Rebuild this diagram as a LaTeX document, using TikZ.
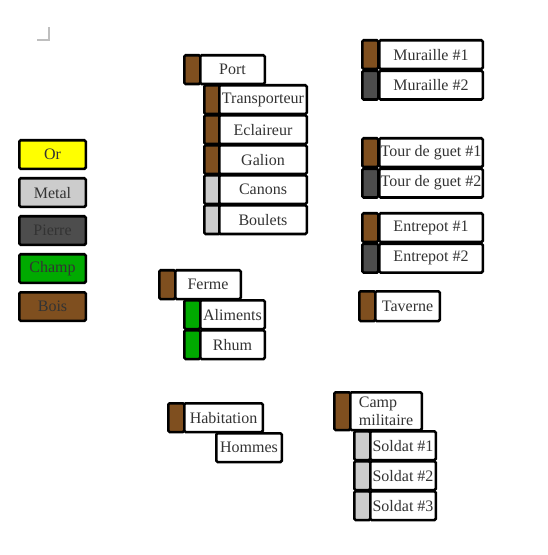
\documentclass[tikz,border=0pt]{standalone}
\usepackage{fontspec}
\setmainfont{Liberation Serif}
\usepackage{xcolor}
\definecolor{bois}{HTML}{7F4F1F}
\definecolor{metal}{HTML}{CCCCCC}
\definecolor{pierre}{HTML}{4D4D4D}
\definecolor{champ}{HTML}{00AA00}
\definecolor{or}{HTML}{FFFF00}
\definecolor{txt}{HTML}{333333}
\usetikzlibrary{positioning}

\begin{document}
\begin{tikzpicture}[x=0.75pt,y=-0.75pt,font=\fontsize{12}{13}\selectfont,
  wd/.style={minimum width=(#1-2.5)*0.75pt},
  ht/.style={minimum height=(#1-1.25)*0.75pt},
  cell/.style={draw,line width=1.9pt,rounded corners=1pt,anchor=north west,
    outer sep=0pt,xshift=0.95pt,yshift=-0.95pt,inner sep=0pt,text=txt,ht=30},
  tag/.style={cell,fill=#1,minimum width=12pt},
  lbl/.style={cell,fill=white},
  key/.style={cell,fill=#1,wd=69,minimum height=21.4pt}]
  \useasboundingbox (0,0) rectangle (547,555);
  % page corner mark
  \draw[black!25,line width=0.8pt] (37,40) -- (49,40) -- (49,27);
  % legend
  \node[key=or]     (or)     at (18,139) {Or};
  \node[key=metal]  (metal)  at (18,177) {Metal};
  \node[key=pierre] (pierre) at (18,215) {Pierre};
  \node[key=champ]  (champ)  at (18,253) {Champ};
  \node[key=bois]   (bois)   at (18,291) {Bois};
  % port
  \node[tag=bois]  (port-t)  at (183,54) {};
  \node[lbl,wd=67] (port)    at (199,54) {Port};
  \node[tag=bois]  (transp-t) at (203,84) {};
  \node[lbl,wd=90] (transp)  at (218,84) {Transporteur};
  \node[tag=bois]  (eclair-t) at (203,114) {};
  \node[lbl,wd=90] (eclair)  at (218,114) {Eclaireur};
  \node[tag=bois]  (galion-t) at (203,144) {};
  \node[lbl,wd=90] (galion)  at (218,144) {Galion};
  \node[tag=metal] (canons-t) at (203,174) {};
  \node[lbl,wd=90] (canons)  at (218,174) {Canons};
  \node[tag=metal] (boulets-t) at (203,204) {};
  \node[lbl,wd=90] (boulets) at (218,204) {Boulets};
  % ferme
  \node[tag=bois]  (ferme-t) at (158,269) {};
  \node[lbl,wd=68] (ferme)   at (174,269) {Ferme};
  \node[tag=champ] (alim-t)  at (183,299) {};
  \node[lbl,wd=67] (alim)    at (199,299) {Aliments};
  \node[tag=champ] (rhum-t)  at (183,329) {};
  \node[lbl,wd=67] (rhum)    at (199,329) {Rhum};
  % habitation
  \node[tag=bois]  (habit-t) at (167,402) {};
  \node[lbl,wd=81] (habit)   at (183,402) {Habitation};
  \node[lbl,wd=68] (hommes)  at (215,432) {Hommes};
  % murailles, tours, entrepots
  \node[tag=bois]   (mur1-t) at (361,39) {};
  \node[lbl,wd=106] (mur1)   at (378,39) {Muraille \#1};
  \node[tag=pierre] (mur2-t) at (361,69.5) {};
  \node[lbl,wd=106] (mur2)   at (378,69.5) {Muraille \#2};
  \node[tag=bois]   (tour1-t) at (361,137) {};
  \node[lbl,wd=106] (tour1)  at (378,137) {Tour de guet \#1};
  \node[tag=pierre] (tour2-t) at (361,167.5) {};
  \node[lbl,wd=106] (tour2)  at (378,167.5) {Tour de guet \#2};
  \node[tag=bois]   (entr1-t) at (361,212) {};
  \node[lbl,wd=106] (entr1)  at (378,212) {Entrepot \#1};
  \node[tag=pierre] (entr2-t) at (361,242.5) {};
  \node[lbl,wd=106] (entr2)  at (378,242.5) {Entrepot \#2};
  \node[tag=bois,ht=31]  (tav-t) at (358,290) {};
  \node[lbl,wd=67,ht=31] (tav)   at (374,290) {Taverne};
  % camp militaire
  \node[tag=bois,ht=39]  (camp-t) at (333,391) {};
  \node[lbl,wd=74,ht=39,align=left] (camp) at (349,391) {Camp\\militaire};
  \node[tag=metal] (sold1-t) at (353,430) {};
  \node[lbl,wd=68] (sold1)   at (369,430) {Soldat \#1};
  \node[tag=metal] (sold2-t) at (353,460) {};
  \node[lbl,wd=68] (sold2)   at (369,460) {Soldat \#2};
  \node[tag=metal] (sold3-t) at (353,490) {};
  \node[lbl,wd=68] (sold3)   at (369,490) {Soldat \#3};
\end{tikzpicture}
\end{document}
